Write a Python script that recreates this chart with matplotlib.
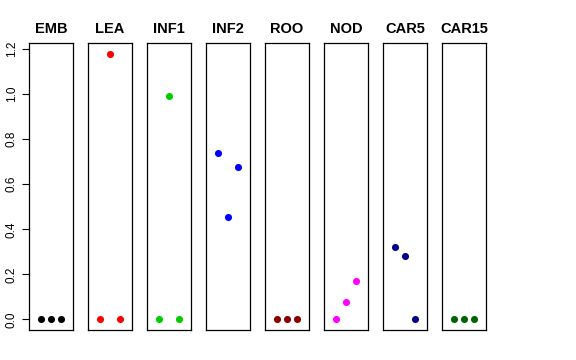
import matplotlib
matplotlib.use("Agg")
import matplotlib.pyplot as plt

plt.rcParams['font.family'] = ['Liberation Sans', 'DejaVu Sans']

# panel names and colours
tissues = ['EMB', 'LEA', 'INF1', 'INF2', 'ROO', 'NOD', 'CAR5', 'CAR15']
colores = ['black', 'red', '#00CD00', 'blue', '#8B0000', 'magenta', '#00008B', '#006400']

# three replicate values per tissue
valores = [
    [0.0, 0.0, 0.0],
    [0.0, 1.18, 0.0],
    [0.0, 0.99, 0.0],
    [0.74, 0.455, 0.675],
    [0.0, 0.0, 0.0],
    [0.0, 0.077, 0.17],
    [0.323, 0.283, 0.0],
    [0.0, 0.0, 0.0],
]
reps = [1, 2, 3]

ymax = max(max(v) for v in valores)
pad = 0.04 * ymax

fig = plt.figure(figsize=(5.76, 3.6), dpi=100)
left0 = 29 / 576
w = 44 / 576
step = 59 / 576
bottom = 1 - 330 / 360
height = (330 - 43) / 360

for i, (name, vals, col) in enumerate(zip(tissues, valores, colores)):
    ax = fig.add_axes([left0 + i * step, bottom, w, height])
    ax.scatter(reps, vals, color=col, s=26, zorder=3, linewidths=0)
    ax.set_xlim(-0.16, 4.16)
    ax.set_ylim(-pad, ymax + pad)
    ax.set_xticks([])
    ax.set_title(name, fontsize=10.5, fontweight='bold', pad=7)
    for s in ax.spines.values():
        s.set_linewidth(0.9)
    if i == 0:
        ax.set_yticks([0.0, 0.2, 0.4, 0.6, 0.8, 1.0, 1.2])
        ax.set_yticklabels(['0.0', '0.2', '0.4', '0.6', '0.8', '1.0', '1.2'],
                           rotation=90, va='center', fontsize=8.5)
        ax.tick_params(axis='y', length=5, width=0.8, pad=3)
    else:
        ax.set_yticks([])

fig.savefig('out.png', dpi=100)
